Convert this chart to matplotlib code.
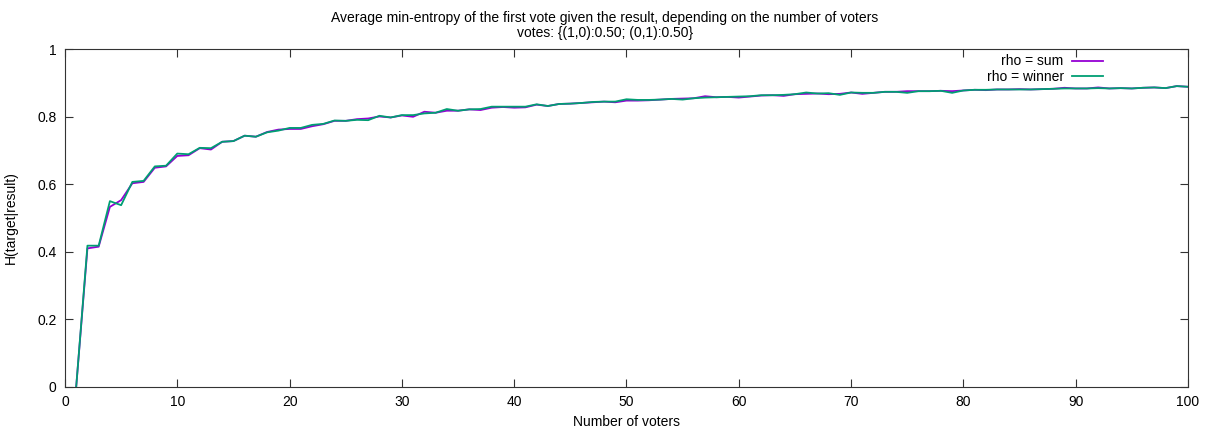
import matplotlib
matplotlib.use("Agg")
import matplotlib.pyplot as plt
from matplotlib.ticker import FormatStrFormatter, MultipleLocator

plt.rcParams["font.family"] = ["Liberation Sans", "DejaVu Sans"]

voters = list(range(1, 101))

rho_sum = [
    0.000, 0.410, 0.415, 0.533, 0.553, 0.603, 0.607, 0.649, 0.653, 0.684,
    0.686, 0.707, 0.703, 0.726, 0.728, 0.744, 0.741, 0.755, 0.762, 0.764,
    0.764, 0.772, 0.778, 0.788, 0.788, 0.793, 0.795, 0.801, 0.798, 0.804,
    0.800, 0.815, 0.812, 0.818, 0.818, 0.822, 0.820, 0.827, 0.829, 0.827,
    0.828, 0.836, 0.832, 0.838, 0.839, 0.841, 0.843, 0.845, 0.843, 0.848,
    0.848, 0.849, 0.851, 0.853, 0.854, 0.855, 0.861, 0.858, 0.859, 0.857,
    0.860, 0.863, 0.864, 0.862, 0.867, 0.868, 0.869, 0.867, 0.868, 0.872,
    0.868, 0.871, 0.874, 0.874, 0.876, 0.876, 0.876, 0.877, 0.876, 0.878,
    0.880, 0.879, 0.881, 0.881, 0.882, 0.881, 0.882, 0.883, 0.886, 0.884,
    0.884, 0.887, 0.884, 0.885, 0.884, 0.886, 0.887, 0.885, 0.891, 0.889,
]

rho_winner = [
    0.000, 0.418, 0.418, 0.550, 0.538, 0.607, 0.610, 0.653, 0.655, 0.691,
    0.689, 0.708, 0.707, 0.726, 0.728, 0.744, 0.741, 0.754, 0.759, 0.767,
    0.767, 0.776, 0.779, 0.789, 0.788, 0.791, 0.790, 0.803, 0.798, 0.805,
    0.805, 0.810, 0.812, 0.823, 0.818, 0.822, 0.823, 0.830, 0.830, 0.830,
    0.830, 0.837, 0.832, 0.838, 0.839, 0.841, 0.844, 0.845, 0.845, 0.852,
    0.850, 0.850, 0.851, 0.853, 0.851, 0.855, 0.857, 0.858, 0.859, 0.860,
    0.861, 0.864, 0.864, 0.865, 0.867, 0.872, 0.869, 0.870, 0.865, 0.872,
    0.871, 0.871, 0.874, 0.874, 0.871, 0.876, 0.876, 0.877, 0.871, 0.878,
    0.880, 0.880, 0.881, 0.881, 0.881, 0.881, 0.882, 0.883, 0.884, 0.884,
    0.884, 0.885, 0.884, 0.885, 0.884, 0.886, 0.887, 0.885, 0.891, 0.889,
]

title = ("Average min-entropy of the first vote given the result, depending on the number of voters\n"
         "votes: {(1,0):0.50; (0,1):0.50}")

fig = plt.figure(figsize=(12.1, 4.3), dpi=100)
ax = fig.add_axes([0.0537, 0.1007, 0.9281, 0.7846])

ax.plot(voters, rho_sum, color="#9400d3", linewidth=1.3, label="rho = sum")
ax.plot(voters, rho_winner, color="#009e73", linewidth=1.3, label="rho = winner")

ax.set_xlim(0, 100)
ax.set_ylim(0, 1)
ax.xaxis.set_major_locator(MultipleLocator(10))
ax.yaxis.set_major_locator(MultipleLocator(0.2))
ax.yaxis.set_major_formatter(FormatStrFormatter("%g"))
ax.tick_params(direction="in", top=True, right=True, length=6, width=0.8,
               labelsize=10, pad=6, color="#333333")
for s in ax.spines.values():
    s.set_linewidth(0.8)
    s.set_color("#333333")

ax.set_xlabel("Number of voters", fontsize=10, labelpad=4)
ax.set_ylabel("H(target|result)", fontsize=10, labelpad=14)
fig.text(0.5, 0.975, title, ha="center", va="top", fontsize=10, linespacing=1.1)

leg = ax.legend(loc="upper right", bbox_to_anchor=(0.924, 0.985), frameon=False,
                markerfirst=False, fontsize=10, handlelength=2.2,
                labelspacing=0.1, handletextpad=0.6, borderaxespad=0.0,
                borderpad=0.0)
for t in leg.get_texts():
    t.set_ha("right")
leg._legend_box.align = "right"

fig.savefig("out.png", dpi=100)
